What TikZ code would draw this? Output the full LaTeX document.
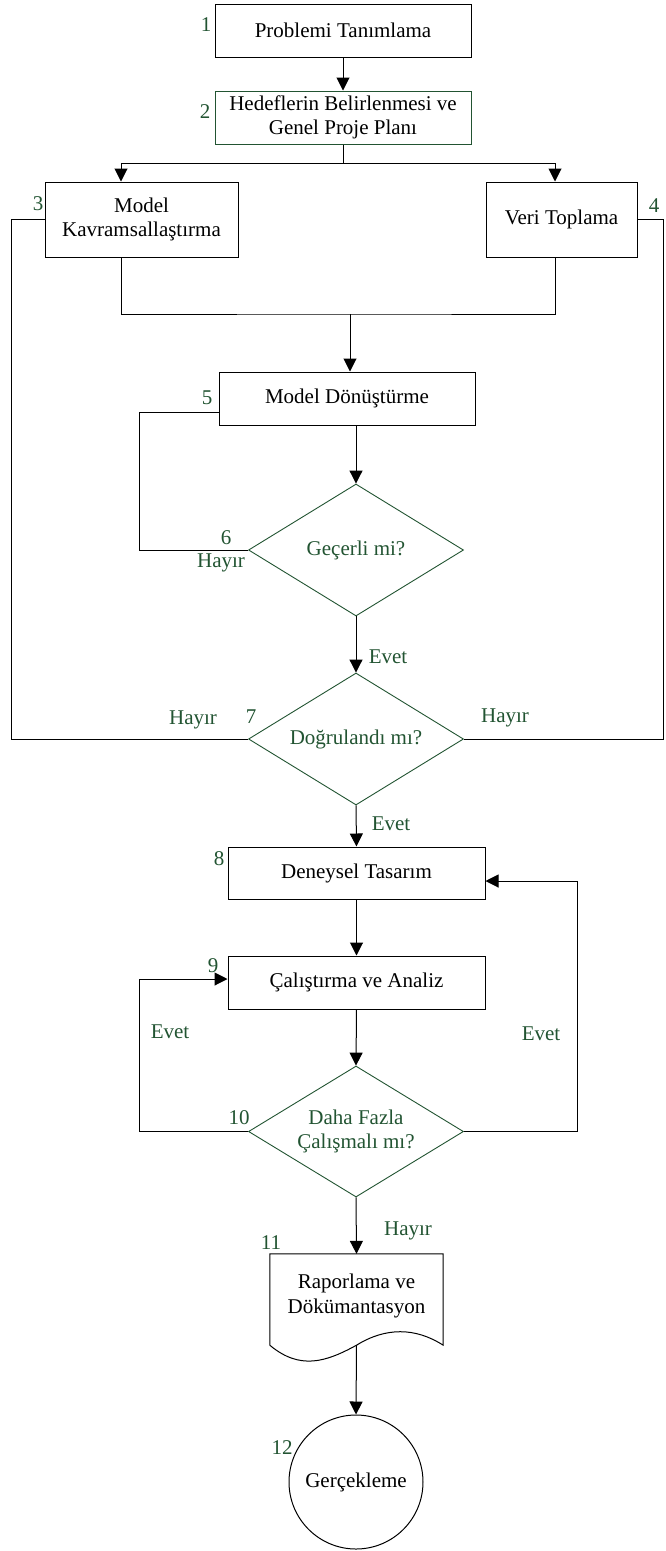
\documentclass[tikz,border=0pt]{standalone}
\usepackage{fontspec}
\setmainfont{Liberation Serif}
\usetikzlibrary{arrows.meta,shapes.geometric}
\definecolor{dgreen}{RGB}{34,84,50}
\begin{document}
\begin{tikzpicture}[x=1pt,y=-1pt,
  every node/.style={font=\fontsize{21}{24.5}\selectfont, inner sep=0pt, align=center},
  box/.style={draw=black, line width=1pt, rectangle},
  gbox/.style={box, draw=dgreen},
  decide/.style={draw=dgreen, line width=0.9pt, diamond, shape aspect=1.63,
    minimum width=215pt, minimum height=132pt, text=dgreen},
  lbl/.style={text=dgreen},
  conn/.style={line width=1pt, draw=black},
  arr/.style={conn, -{Triangle[length=13pt,width=13pt]}}]
\useasboundingbox (0,0) rectangle (665,1551);

% process boxes
\node[box,  minimum width=256pt, minimum height=53pt] (n1) at (343,30.5) {Problemi Tanımlama};
\node[gbox, minimum width=256pt, minimum height=53pt] (n2) at (343,117.5) {Hedeflerin Belirlenmesi ve\\Genel Proje Planı};
\node[box,  minimum width=193pt, minimum height=75pt] (n3) at (141.5,219.5) {Model\\Kavramsallaştırma};
\node[box,  minimum width=151pt, minimum height=75pt] (n4) at (561.5,219.5) {Veri Toplama};
\node[box,  minimum width=256pt, minimum height=53pt] (n5) at (347,398.5) {Model Dönüştürme};
\node[decide] (n6) at (356,550) {Geçerli mi?};
\node[decide] (n7) at (356,739) {Doğrulandı mı?};
\node[box,  minimum width=257pt, minimum height=52pt] (n8) at (356.5,873) {Deneysel Tasarım};
\node[box,  minimum width=257pt, minimum height=53pt] (n9) at (356.5,982.5) {Çalıştırma ve Analiz};
\node[decide, minimum height=131pt] (n10) at (356,1131.5) {Daha Fazla\\Çalışmalı mı?};
\node[minimum width=173pt, minimum height=91pt] (n11) at (356.5,1299.5) {};
\node at (356.5,1296) {Raporlama ve\\Dökümantasyon};
\node[draw=black, line width=1pt, circle, minimum size=134pt] (n12) at (356,1482) {Gerçekleme};

% document symbol outline
\draw[conn] (n11.south west) -- (n11.north west) -- (n11.north east) -- (n11.south east)
  .. controls +(-28,-18) and +(29,-18) .. (n11.south)
  .. controls +(-31,17) and +(30,25) .. (n11.south west);

% step numbers
\node[lbl] (l1) at (206,25) {1};
\node[lbl] (l2) at (205,112) {2};
\node[lbl] (l3) at (38,204) {3};
\node[lbl] (l4) at (654,206) {4};
\node[lbl] (l5) at (207,398) {5};
\node[lbl] (l6) at (226,538) {6};
\node[lbl] (l7) at (251,717) {7};
\node[lbl] (l8) at (219,859) {8};
\node[lbl] (l9) at (213,966) {9};
\node[lbl] (l10) at (239,1118) {10};
\node[lbl] (l11) at (271,1243) {11};
\node[lbl] (l12) at (282,1448) {12};

% branch answers
\node[lbl] (h6) at (221,563) {Hayır};
\node[lbl] (e6) at (388,657) {Evet};
\node[lbl] (h7l) at (193,720) {Hayır};
\node[lbl] (h7r) at (505,718) {Hayır};
\node[lbl] (e7) at (391,824) {Evet};
\node[lbl] (e10l) at (170,1032) {Evet};
\node[lbl] (e10r) at (541,1034) {Evet};
\node[lbl] (h10) at (408,1231) {Hayır};

% connectors
\coordinate (mg) at (350,314);
\draw[arr] (n1) -- (n2);
\draw[arr] (n2.south) -- ++(0,19) -| ([xshift=-20.5pt]n3.north);
\draw[arr] (n2.south) -- ++(0,19) -| ([xshift=-6.5pt]n4.north);
\draw[conn] ([xshift=-20.5pt]n3.south) |- (mg) -| ([xshift=-6.5pt]n4.south);
\draw[arr] (mg) -- (mg |- n5.north);
\draw[arr] (n5.south -| n6) -- (n6.north);
\draw[conn] (n6.west) -- ++(-109,0) |- ([yshift=-13.5pt]n5.west);
\draw[arr] (n6.south) -- (n7.north);
\draw[conn] (n7.west) -- ++(-237,0) |- (n3.west);
\draw[conn] (n7.east) -- ++(200,0) |- (n4.east);
\draw[arr] (n7.south) -- (n8.north);
\draw[arr] (n8.south) -- (n9.north);
\draw[arr] (n9.south) -- (n10.north);
\draw[arr] (n10.west) -- ++(-109,0) |- ([yshift=3.5pt]n9.west);
\draw[arr] (n10.east) -- ++(114,0) |- ([yshift=-8pt]n8.east);
\draw[arr] (n10.south) -- (n11.north);
\draw[arr] (n11.south) -- (n12.north);
\end{tikzpicture}
\end{document}
